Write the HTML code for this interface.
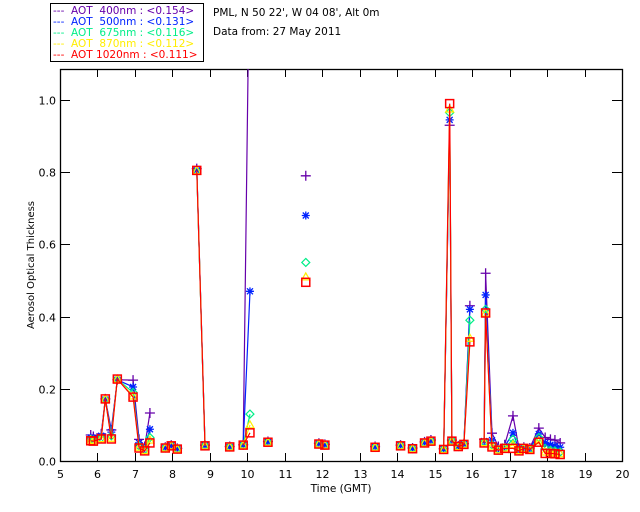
<!DOCTYPE html>
<html><head><meta charset="utf-8"><style>
body{margin:0;background:#fff;}
svg{display:block;font-family:"DejaVu Sans","Liberation Sans",sans-serif;}
</style></head><body>
<svg id="chart" width="640" height="512" xmlns="http://www.w3.org/2000/svg">
<rect x="0" y="0" width="640" height="512" fill="#fff"/>
<g>
<rect x="50.5" y="3.5" width="153" height="58" fill="none" stroke="#000"/>
<g font-size="10.5">
<text x="53" y="14" fill="#6600aa" xml:space="preserve">---  AOT  400nm : &lt;0.154&gt;</text>
<text x="53" y="25" fill="#0022ff" xml:space="preserve">---  AOT  500nm : &lt;0.131&gt;</text>
<text x="53" y="36" fill="#00ee88" xml:space="preserve">---  AOT  675nm : &lt;0.116&gt;</text>
<text x="53" y="47" fill="#ffee00" xml:space="preserve">---  AOT  870nm : &lt;0.112&gt;</text>
<text x="53" y="58" fill="#ff0000" xml:space="preserve">---  AOT 1020nm : &lt;0.111&gt;</text>
</g></g>
<text x="213" y="16" font-size="10.5">PML, N 50 22', W 04 08', Alt 0m</text>
<text x="213" y="35" font-size="10.5">Data from: 27 May 2011</text>
<defs><clipPath id="plotclip"><rect x="60" y="69" width="562" height="392"/></clipPath></defs>
<g id="axes"></g>
<g id="series" clip-path="url(#plotclip)"></g>
<text x="341" y="492" font-size="10.5" text-anchor="middle">Time (GMT)</text>
<text transform="translate(34,265) rotate(-90)" font-size="10" text-anchor="middle">Aerosol Optical Thickness</text>
</svg>
<script>
const times = [5.82,5.89,6.10,6.21,6.37,6.53,6.95,7.11,7.26,7.40,7.81,7.97,8.13,8.65,8.87,9.53,9.89,10.07,10.55,11.56,11.91,12.07,13.41,14.09,14.41,14.73,14.90,15.24,15.40,15.46,15.63,15.78,15.94,16.32,16.36,16.53,16.70,16.87,17.09,17.25,17.38,17.54,17.78,17.95,18.09,18.21,18.35];
const segs = [1,1,1,1,1,1,1,1,1,1,2,3,4,5,5,6,7,7,8,9,10,11,12,13,14,15,16,17,17,17,17,17,17,18,18,18,18,18,18,18,18,18,18,18,18,18,18];
const aot400 = [0.072,0.068,0.075,0.172,0.086,0.225,0.224,0.060,0.040,0.133,0.038,0.044,0.035,0.810,0.044,0.040,0.045,1.500,0.054,0.790,0.049,0.046,0.040,0.044,0.036,0.053,0.058,0.034,0.930,0.058,0.042,0.048,0.430,0.060,0.520,0.077,0.040,0.045,0.125,0.035,0.038,0.036,0.091,0.065,0.060,0.058,0.050];
const aot500 = [0.065,0.063,0.070,0.170,0.080,0.225,0.205,0.050,0.035,0.088,0.037,0.043,0.034,0.805,0.043,0.039,0.044,0.470,0.053,0.680,0.048,0.045,0.039,0.043,0.035,0.051,0.056,0.033,0.945,0.057,0.041,0.047,0.420,0.055,0.460,0.058,0.035,0.040,0.078,0.032,0.037,0.034,0.075,0.050,0.045,0.042,0.038];
const aot675 = [0.060,0.058,0.064,0.170,0.070,0.226,0.190,0.042,0.031,0.065,0.036,0.042,0.033,0.803,0.042,0.039,0.044,0.130,0.052,0.550,0.047,0.044,0.038,0.042,0.034,0.050,0.055,0.032,0.965,0.056,0.040,0.046,0.390,0.052,0.420,0.045,0.032,0.037,0.060,0.030,0.036,0.033,0.065,0.035,0.030,0.028,0.025];
const aot870 = [0.058,0.056,0.062,0.171,0.063,0.227,0.180,0.038,0.029,0.058,0.036,0.042,0.033,0.804,0.042,0.039,0.044,0.100,0.052,0.510,0.047,0.044,0.038,0.042,0.034,0.050,0.055,0.032,0.975,0.055,0.040,0.046,0.340,0.051,0.410,0.041,0.031,0.036,0.045,0.029,0.035,0.032,0.056,0.025,0.024,0.022,0.020];
const aot1020 = [0.056,0.055,0.061,0.172,0.061,0.227,0.177,0.036,0.028,0.050,0.036,0.042,0.033,0.805,0.042,0.039,0.044,0.078,0.052,0.495,0.047,0.044,0.038,0.042,0.034,0.050,0.055,0.032,0.990,0.055,0.040,0.046,0.330,0.050,0.410,0.039,0.030,0.035,0.035,0.028,0.035,0.032,0.052,0.021,0.021,0.020,0.018];
const xTicks = [5,6,7,8,9,10,11,12,13,14,15,16,17,18,19,20];
const yTicks = [0,0.2,0.4,0.6,0.8,1.0];
const yTickLabels = ["0.0","0.2","0.4","0.6","0.8","1.0"];

const NS="http://www.w3.org/2000/svg";
const X0=60,X1=622,Y0=461,Y1=69;
const xs=t=>X0+(t-5)*(X1-X0)/15;
const ys=v=>Y0-v*361;
function mk(tag,attrs,parent){const e=document.createElementNS(NS,tag);for(const k in attrs)e.setAttribute(k,attrs[k]);parent.appendChild(e);return e;}
const axes=document.getElementById('axes');
const frame=mk('rect',{x:X0+0.5,y:Y1+0.5,width:X1-X0,height:Y0-Y1,fill:'none',stroke:'#000','stroke-width':1.3},axes);


xTicks.forEach(t=>{
  const x=Math.round(xs(t))+0.5;
  const a=mk('line',{x1:x,x2:x,y1:Y0,y2:Y0-8,stroke:'#000'},axes);
  
  
  const b=mk('line',{x1:x,x2:x,y1:Y1,y2:Y1+8,stroke:'#000'},axes);
  
  
  const l=mk('text',{x:x,y:478,'font-size':11,'text-anchor':'middle'},axes);
  l.textContent=t;
  
  
});
yTicks.forEach((v,i)=>{
  const y=Math.round(ys(v))+0.5;
  const a=mk('line',{x1:X0,x2:X0+10,y1:y,y2:y,stroke:'#000'},axes);
  
  
  const b=mk('line',{x1:X1,x2:X1-10,y1:y,y2:y,stroke:'#000'},axes);
  
  
  const l=mk('text',{x:56,y:y+4,'font-size':11,'text-anchor':'end'},axes);
  l.textContent=yTickLabels[i];
  
  
});
const sg=document.getElementById('series');
const series=[
 {name:'400',vals:aot400,color:'#6600aa',m:'plus'},
 {name:'500',vals:aot500,color:'#0022ff',m:'star'},
 {name:'675',vals:aot675,color:'#00ee88',m:'diamond'},
 {name:'870',vals:aot870,color:'#ffee00',m:'triangle'},
 {name:'1020',vals:aot1020,color:'#ff0000',m:'square'}];
series.forEach(s=>{
  const g=mk('g',{},sg);
  
  
  let d='';
  for(let i=0;i<times.length;i++){
    const cmd=(i>0&&segs[i]===segs[i-1])?'L':'M';
    d+=cmd+xs(times[i]).toFixed(1)+' '+ys(s.vals[i]).toFixed(1)+' ';
  }
  const p=mk('path',{d:d,fill:'none',stroke:s.color,'stroke-width':1.2},g);
  
  
  for(let i=0;i<times.length;i++){
    const x=xs(times[i]),y=ys(s.vals[i]);let e;
    if(s.m==='plus'){e=mk('path',{d:`M${x-5} ${y}H${x+5}M${x} ${y-5}V${y+5}`,stroke:s.color,'stroke-width':1.3,fill:'none'},g);}
    else if(s.m==='star'){e=mk('path',{d:`M${x-4} ${y}H${x+4}M${x} ${y-4}V${y+4}M${x-3} ${y-3}L${x+3} ${y+3}M${x-3} ${y+3}L${x+3} ${y-3}`,stroke:s.color,'stroke-width':1.3,fill:'none'},g);}
    else if(s.m==='diamond'){e=mk('path',{d:`M${x} ${y-4}L${x+4} ${y}L${x} ${y+4}L${x-4} ${y}Z`,stroke:s.color,'stroke-width':1.2,fill:'none'},g);}
    else if(s.m==='triangle'){e=mk('path',{d:`M${x} ${y-4}L${x+4} ${y+3}L${x-4} ${y+3}Z`,stroke:s.color,'stroke-width':1.2,fill:'none'},g);}
    else {e=mk('rect',{x:x-4,y:y-4,width:8,height:8,stroke:s.color,'stroke-width':1.5,fill:'none'},g);}
    
    
  }
});
</script>
</body></html>
